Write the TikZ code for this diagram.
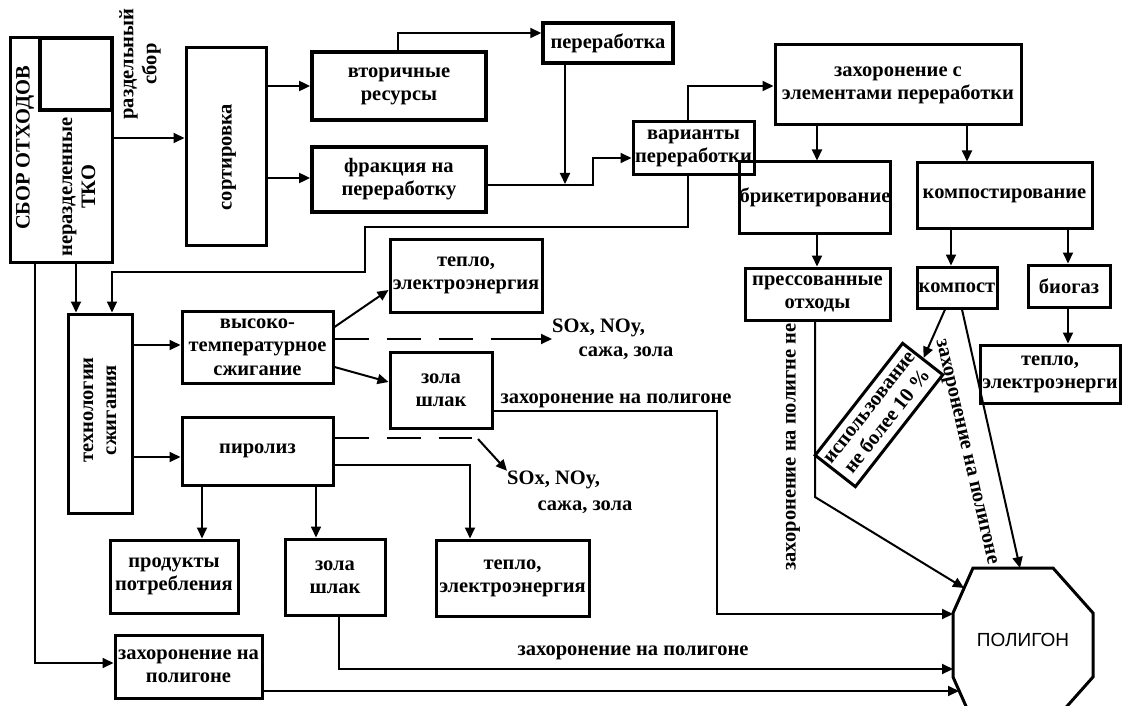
\documentclass[tikz,border=0pt]{standalone}
\usepackage{fontspec}
\setmainfont{Liberation Serif}
\newfontfamily\polyfont{Liberation Sans}
\usetikzlibrary{arrows.meta,calc}
\begin{document}
\begin{tikzpicture}[x=1pt,y=-1pt,
  txt/.style={font=\fontsize{20.5}{23}\selectfont\bfseries,align=center,inner sep=0pt},
  box/.style={draw,line width=3pt,txt},
  conn/.style={line width=2pt},
  arr/.style={conn,-{Triangle[length=11pt,width=10pt]}},
  dsh/.style={line width=2.6pt,dash pattern=on 34pt off 18pt}
]
\useasboundingbox (0,0) rectangle (1122,706);
\fill[white] (0,0) rectangle (1122,706);
\clip (0,0) rectangle (1122,706);

% ---- left block
\node[box,minimum width=102,minimum height=224] (sbor) at (61,150) {};
\node[draw,line width=3.5pt,minimum width=72,minimum height=72] (sborIn) at (76,74) {};
\node[txt,rotate=90] (sborT) at (25,148) {СБОР ОТХОДОВ};
\node[txt,rotate=90] (nerT) at (79,187) {неразделенные\\ТКО};
\node[txt,rotate=90] (razdT) at (140,64) {раздельный\\сбор};

\node[box,minimum width=80,minimum height=197] (sort) at (226,146.5) {};
\node[txt,rotate=90] (sortT) at (229,157) {сортировка};

\node[box,line width=3.8pt,minimum width=174,minimum height=68] (vtor) at (399,86) {вторичные\\ресурсы};
\node[box,line width=3.8pt,minimum width=174,minimum height=65] (frak) at (399,179.5) {фракция на\\переработку};
\node[box,line width=3.5pt,minimum width=130,minimum height=40] (perer) at (608,43) {переработка};
\node[box,minimum width=121,minimum height=53] (var) at (693.5,148.5) {варианты\\переработки};

% ---- right block
\node[box,minimum width=246,minimum height=80] (zahEl) at (898,85) {захоронение с\\элементами переработки};
\node[box,minimum width=104,minimum height=71] (brik) at (815,197.5) {брикетирование};
\node[box,minimum width=175,minimum height=65] (kompz) at (1004.5,195.5) {компостирование};
\node[box,minimum width=145,minimum height=52] (press) at (817.5,294) {прессованные\\отходы};
\node[box,minimum width=80,minimum height=41] (komp) at (957,287.5) {компост};
\node[box,minimum width=82,minimum height=42] (biog) at (1069,286) {биогаз};
\node[box,minimum width=140,minimum height=58] (tepR) at (1050,374) {тепло,\\электроэнерги};
\node[box,rotate=52,minimum width=142,minimum height=51] (ispol) at (879,415) {использование\\не более 10 \%};

% ---- combustion block
\node[box,minimum width=64,minimum height=199] (tech) at (100,413.5) {};
\node[txt,rotate=90] (techT) at (100,410) {технологии\\сжигания};
\node[box,minimum width=151,minimum height=72,font=\fontsize{20.5}{23.5}\selectfont\bfseries] (vys) at (257.5,347) {высоко-\\температурное\\сжигание};
\node[box,minimum width=151,minimum height=68] (pir) at (257.5,451) {пиролиз};
\node[box,minimum width=152,minimum height=73] (tep1) at (466,275.5) {тепло,\\электроэнергия};
\node[box,minimum width=102,minimum height=76] (zola1) at (441,390) {зола\\шлак};
\node[box,minimum width=128,minimum height=73] (prod) at (174,576.5) {продукты\\потребления};
\node[box,minimum width=100,minimum height=76] (zola2) at (335,577) {зола\\шлак};
\node[box,minimum width=153,minimum height=76] (tep2) at (512.5,578) {тепло,\\электроэнергия};
\node[box,minimum width=147,minimum height=63] (zahB) at (188.5,666.5) {захоронение на\\полигоне};

% ---- labels
\node[txt,anchor=west] (sox1) at (552,328) {SOx, NOy,};
\node[txt] (saj1) at (626,353) {сажа, зола};
\node[txt,anchor=west] (sox2) at (507,480) {SOx, NOy,};
\node[txt] (saj2) at (585,507) {сажа, зола};
\node[txt] (zt1) at (616,401) {захоронение на полигоне};
\node[txt] (zt2) at (633,653) {захоронение на полигоне};
\node[txt,rotate=90] (zt3) at (793,447) {захоронение на полигне не};
\node[txt,rotate=-77] (zt4) at (965,452) {захоронение на полигоне};

% ---- polygon
\coordinate (o1) at (973,568); \coordinate (o2) at (1053,568);
\coordinate (o3) at (1093,613); \coordinate (o4) at (1093,677);
\coordinate (o5) at (1053,722); \coordinate (o6) at (973,722);
\coordinate (o7) at (953,677); \coordinate (o8) at (953,613);
\draw[line width=3pt,line join=miter] (o1)--(o2)--(o3)--(o4)--(o5)--(o6)--(o7)--(o8)--cycle;
\node[font=\polyfont\fontsize{19}{22}\selectfont,inner sep=0pt] (poly) at (1023,640) {ПОЛИГОН};
\coordinate (pA) at (953,614);
\coordinate (pB) at (953,669);
\coordinate (pC) at (959,691);
\coordinate (pD) at (964,588);
\coordinate (pE) at (1020,568);
\coordinate (jn) at (565,184);

% ---- connectors
\draw[arr] (sbor.east |- 0,138) -- (sort.west |- 0,138);
\draw[arr] (sort.east |- vtor.west) -- (vtor.west);
\draw[arr] (sort.east |- 0,178) -- (frak.west |- 0,178);
\draw[arr] (vtor.north -| 398,0) |- (perer.west |- 0,33);
\draw[arr] (perer.south -| jn) -- (jn);
\draw[arr] (frak.east |- 0,185) -- (593,185) -- (593,158) -- (var.west |- 0,158);
\draw[arr] (var.north -| 688,0) |- (zahEl.west |- 0,86);
\draw[arr] (var.south -| 688,0) -- (688,227) -- (365,227) -- (365,272) -- (112,272) -- (tech.north -| 112,0);
\draw[arr] (sbor.south -| 76,0) -- (tech.north -| 76,0);
\draw[arr] (sbor.south -| 35,0) |- (zahB.west |- 0,663);

\draw[arr] (tech.east |- 0,345) -- (vys.west |- 0,345);
\draw[arr] (tech.east |- 0,457) -- (pir.west |- 0,457);
\draw[arr] (vys.east |- 0,327) -- (tep1.west |- 0,290);
\draw[dsh] (vys.east |- 0,339) -- (510,339);
\draw[arr] (510,339) -- (sox1.west |- 0,339);
\draw[arr] (vys.east |- 0,367) -- (zola1.west |- 0,382);
\draw[dsh] (pir.east |- 0,438) -- (472,438);
\draw[arr] (478,439) -- (sox2.north west);
\draw[arr] (pir.east |- 0,465) -| (tep2.north -| 470,0);
\draw[arr] (pir.south -| 202,0) -- (prod.north -| 202,0);
\draw[arr] (pir.south -| 316,0) -- (zola2.north -| 316,0);

\draw[arr] (zola1.east |- 0,411) -- (717,411) |- (pA);
\draw[arr] (zola2.south -| 339,0) |- (pB);
\draw[arr] (zahB.east |- 0,691) -- (pC);

\draw[arr] (zahEl.south -| 817,0) -- (brik.north -| 817,0);
\draw[arr] (zahEl.south -| 967,0) -- (kompz.north -| 967,0);
\draw[arr] (brik.south -| 817,0) -- (press.north -| 817,0);
\draw[arr] (kompz.south -| 951,0) -- (komp.north -| 951,0);
\draw[arr] (kompz.south -| 1068,0) -- (biog.north -| 1068,0);
\draw[arr] (biog.south -| 1068,0) -- (tepR.north -| 1068,0);
\draw[arr] (press.south -| 815,0) -- (815,497) -- (pD);
\draw[arr] (komp.south -| 945,0) -- (ispol.east);
\draw[arr] (komp.south -| 962,0) -- (pE);
\end{tikzpicture}
\end{document}
